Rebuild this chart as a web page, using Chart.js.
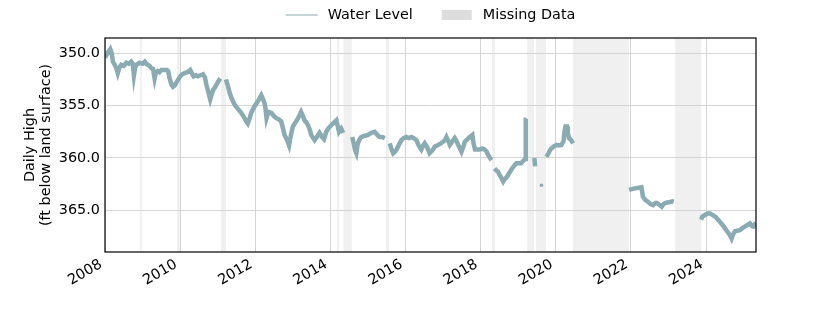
<!DOCTYPE html>
<html>
<head>
<meta charset="utf-8">
<script src="https://cdn.jsdelivr.net/npm/chart.js@4.4.1/dist/chart.umd.min.js"></script>
<style>
  html, body { margin: 0; padding: 0; background: #fff; }
</style>
</head>
<body>
<canvas id="chart" width="840" height="315"></canvas>
<script>
// decimal years and daily-high depth (ft below land surface); null = gap in record
const years = [
  2008.00, 2008.05, 2008.10, 2008.14, 2008.18, 2008.21, 2008.26, 2008.30, 2008.34, 2008.38,
  2008.43, 2008.50, 2008.57, 2008.64, 2008.70, 2008.74, 2008.77, 2008.80, 2008.83, 2008.88, 2008.92,
  2009.00, 2009.06, 2009.10, 2009.14, 2009.19, 2009.23, 2009.28, 2009.32, 2009.35, 2009.40,
  2009.45, 2009.50, 2009.58, 2009.65, 2009.68, 2009.72, 2009.77, 2009.81, 2009.85, 2009.90,
  2010.00, 2010.06, 2010.12, 2010.20, 2010.27, 2010.31, 2010.36, 2010.42, 2010.47, 2010.54,
  2010.61, 2010.66, 2010.70, 2010.75, 2010.80, 2010.84, 2010.88, 2010.92, 2010.97, 2011.01, 2011.07,
  2011.15,
  2011.22, 2011.27, 2011.32, 2011.37, 2011.41, 2011.45, 2011.49, 2011.56, 2011.63, 2011.70,
  2011.76, 2011.80, 2011.85, 2011.89, 2011.96, 2012.03, 2012.10, 2012.16, 2012.20, 2012.25,
  2012.27, 2012.30, 2012.35, 2012.43, 2012.50, 2012.56, 2012.62, 2012.69, 2012.74, 2012.78,
  2012.85, 2012.90, 2012.95, 2013.00, 2013.07, 2013.14, 2013.18, 2013.22, 2013.27, 2013.31,
  2013.36, 2013.40, 2013.45, 2013.49, 2013.54, 2013.58, 2013.64, 2013.71, 2013.78, 2013.83,
  2013.89, 2013.96, 2014.03, 2014.10, 2014.16, 2014.23, 2014.29, 2014.34,
  2014.45,
  2014.58, 2014.62, 2014.66, 2014.69, 2014.73, 2014.78, 2014.82, 2014.90, 2015.00, 2015.09,
  2015.18, 2015.25, 2015.31, 2015.38, 2015.45,
  2015.52,
  2015.58, 2015.63, 2015.67, 2015.72, 2015.76, 2015.83, 2015.89, 2015.95, 2016.02, 2016.09,
  2016.16, 2016.22, 2016.29, 2016.35, 2016.42, 2016.47, 2016.51, 2016.58, 2016.64, 2016.71,
  2016.78, 2016.84, 2016.90, 2017.00, 2017.05, 2017.09, 2017.14, 2017.18, 2017.25, 2017.31,
  2017.36, 2017.40, 2017.45, 2017.49, 2017.54, 2017.58, 2017.65, 2017.71, 2017.78, 2017.81,
  2017.85, 2017.92, 2017.98, 2018.05, 2018.11, 2018.16, 2018.20, 2018.25, 2018.29,
  2018.33,
  2018.37, 2018.42, 2018.46, 2018.50, 2018.55, 2018.60, 2018.64, 2018.68, 2018.75, 2018.82,
  2018.88, 2018.95, 2019.02, 2019.08, 2019.15, 2019.19, 2019.20, 2019.22,
  2019.30,
  2019.43, 2019.45,
  2019.55,
  2019.75, 2019.80, 2019.84, 2019.88, 2019.95, 2020.02, 2020.08, 2020.15, 2020.19, 2020.21,
  2020.23, 2020.26, 2020.30, 2020.32, 2020.35, 2020.41, 2020.46,
  2021.00,
  2021.95, 2022.00, 2022.10, 2022.20, 2022.28, 2022.32, 2022.38, 2022.46, 2022.52, 2022.59,
  2022.65, 2022.69, 2022.75, 2022.82, 2022.87, 2022.91, 2022.97, 2023.04, 2023.10, 2023.14,
  2023.50,
  2023.87, 2023.90, 2023.94, 2023.97, 2024.04, 2024.11, 2024.18, 2024.24, 2024.30, 2024.37,
  2024.44, 2024.50, 2024.56, 2024.63, 2024.68, 2024.72, 2024.77, 2024.83, 2024.90, 2024.97,
  2025.03, 2025.10, 2025.17, 2025.22, 2025.26, 2025.30, 2025.33
];
const levels = [
  350.4, 350.1, 349.8, 349.6, 350.0, 350.8, 351.1, 351.4, 351.9, 351.4,
  351.1, 351.2, 350.9, 351.0, 350.8, 351.0, 352.1, 351.4, 351.1, 351.0, 350.9,
  351.0, 350.8, 351.0, 351.1, 351.2, 351.4, 351.5, 352.4, 351.9, 351.7,
  351.8, 351.6, 351.6, 351.6, 351.7, 352.4, 353.0, 353.2, 353.1, 352.8,
  352.2, 352.0, 351.9, 351.8, 351.6, 351.9, 352.2, 352.1, 352.2, 352.1,
  352.0, 352.3, 353.0, 353.7, 354.4, 353.9, 353.5, 353.3, 353.0, 352.7, 352.4,
  null,
  352.5, 353.1, 353.8, 354.3, 354.6, 354.9, 355.1, 355.4, 355.7, 356.1,
  356.5, 356.7, 356.2, 355.7, 355.2, 354.8, 354.4, 354.0, 354.3, 354.8,
  355.2, 356.2, 355.6, 355.7, 356.0, 356.2, 356.3, 356.5, 357.2, 357.8,
  358.3, 358.8, 357.8, 357.0, 356.6, 356.2, 355.9, 355.6, 356.0, 356.4,
  356.6, 356.85, 357.3, 357.8, 358.1, 358.3, 358.0, 357.6, 358.0, 358.2,
  357.5, 357.1, 356.85, 356.6, 356.4, 357.5, 357.2, 357.6,
  null,
  358.0, 358.6, 359.3, 359.55, 358.6, 358.2, 358.0, 357.9, 357.8, 357.6,
  357.5, 357.8, 358.0, 358.0, 358.1,
  null,
  358.6, 359.2, 359.55, 359.4, 359.2, 358.7, 358.3, 358.1, 358.0, 358.1,
  358.0, 358.1, 358.3, 358.8, 359.2, 358.8, 358.6, 359.0, 359.55, 359.3,
  358.9, 358.8, 358.7, 358.45, 358.3, 358.0, 358.4, 358.75, 358.4, 358.1,
  358.4, 358.75, 359.1, 359.4, 358.9, 358.45, 358.2, 358.0, 357.8, 358.6,
  359.2, 359.2, 359.2, 359.1, 359.2, 359.4, 359.7, 360.0, 360.2,
  null,
  361.0, 361.2, 361.3, 361.6, 361.9, 362.25, 362.0, 361.9, 361.5, 361.1,
  360.8, 360.5, 360.5, 360.5, 360.2, 360.1, 356.3, 356.2,
  null,
  360.0, 360.8,
  null,
  359.9, 359.6, 359.3, 359.1, 358.9, 358.75, 358.8, 358.75, 358.5, 358.3,
  357.5, 357.0, 357.0, 357.6, 358.1, 358.3, 358.6,
  null,
  363.05, 363.0, 362.9, 362.85, 362.8, 363.7, 364.0, 364.2, 364.4, 364.5,
  364.3, 364.3, 364.45, 364.65, 364.4, 364.3, 364.25, 364.2, 364.15, 364.2,
  null,
  365.9, 365.6, 365.5, 365.45, 365.3, 365.3, 365.45, 365.6, 365.8, 366.1,
  366.4, 366.7, 367.0, 367.35, 367.7, 367.3, 367.0, 366.95, 366.9, 366.7,
  366.55, 366.4, 366.25, 366.5, 366.55, 366.3, 366.25
];

// lone reading inside a gap
const loneYears = [2019.62];
const loneLevels = [362.6];

// missing-data spans (decimal years)
const missingStart = [2008.93, 2009.92, 2011.09, 2014.18, 2014.35, 2015.48, 2018.30, 2019.24, 2019.47, 2020.46, 2023.18];
const missingEnd   = [2008.98, 2009.99, 2011.22, 2014.23, 2014.57, 2015.56, 2018.38, 2019.42, 2019.74, 2021.95, 2023.87];

const yTicks = [350, 355, 360, 365];

const lineColor = '#8aabb1';
const bandColor = '#f0f0f0';
const font = '"DejaVu Sans", sans-serif';
const fontSize = 14.4;

Chart.defaults.font.family = font;
Chart.defaults.font.size = fontSize;
Chart.defaults.color = '#000';

// shaded gaps behind the grid
const missingBands = {
    id: 'missingBands',
    beforeDraw(chart) {
        const {ctx, chartArea, scales} = chart;
        ctx.save();
        ctx.fillStyle = bandColor;
        missingStart.forEach((s, i) => {
            const x0 = scales.x.getPixelForValue(s);
            const x1 = scales.x.getPixelForValue(missingEnd[i]);
            ctx.fillRect(x0, chartArea.top, Math.max(x1 - x0, 1.5), chartArea.bottom - chartArea.top);
        });
        ctx.restore();
    }
};

// black frame round the plot and the legend on top
const frameAndLegend = {
    id: 'frameAndLegend',
    afterDraw(chart) {
        const {ctx, chartArea} = chart;
        ctx.save();
        ctx.strokeStyle = '#000';
        ctx.lineWidth = 1.2;
        ctx.strokeRect(chartArea.left, chartArea.top, chartArea.right - chartArea.left, chartArea.bottom - chartArea.top);

        ctx.font = fontSize + 'px ' + font;
        ctx.textBaseline = 'middle';
        const w1 = ctx.measureText('Water Level').width;
        const w2 = ctx.measureText('Missing Data').width;
        const total = 32 + 10 + w1 + 29 + 30 + 11 + w2;
        let x = (chartArea.left + chartArea.right) / 2 - total / 2;
        const y = 15;

        ctx.strokeStyle = lineColor;
        ctx.lineWidth = 1.2;
        ctx.beginPath();
        ctx.moveTo(x, y);
        ctx.lineTo(x + 32, y);
        ctx.stroke();
        x += 42;
        ctx.fillStyle = '#000';
        ctx.fillText('Water Level', x, y);
        x += w1 + 29;
        ctx.fillStyle = '#dddddd';
        ctx.fillRect(x, y - 5, 30, 10);
        x += 41;
        ctx.fillStyle = '#000';
        ctx.fillText('Missing Data', x, y);
        ctx.restore();
    }
};

new Chart(document.getElementById('chart'), {
    type: 'line',
    data: {
        datasets: [{
            label: 'Water Level',
            data: years.map((yr, i) => ({x: yr, y: levels[i]})),
            borderColor: lineColor,
            borderWidth: 4.5,
            borderJoinStyle: 'miter',
            pointRadius: 0,
            tension: 0,
            spanGaps: false
        }, {
            label: 'lone',
            data: loneYears.map((yr, i) => ({x: yr, y: loneLevels[i]})),
            showLine: false,
            pointRadius: 1.8,
            pointBackgroundColor: lineColor,
            pointBorderWidth: 0
        }]
    },
    options: {
        responsive: false,
        animation: false,
        layout: { padding: { top: 38, right: 84, left: 0, bottom: 0 } },
        plugins: {
            legend: { display: false },
            tooltip: { enabled: false }
        },
        scales: {
            x: {
                type: 'linear',
                min: 2008,
                max: 2025.33,
                afterFit(scale) { scale.height = 63; },
                grid: { color: '#d4d4d4', lineWidth: 1, drawTicks: false },
                border: { display: false },
                ticks: {
                    stepSize: 2,
                    includeBounds: false,
                    minRotation: 30,
                    maxRotation: 30,
                    padding: 4,
                    labelOffset: -4,
                    callback: v => v.toFixed(0)
                }
            },
            y: {
                type: 'linear',
                reverse: true,
                min: 348.54,
                max: 368.98,
                afterFit(scale) { scale.width = 105; },
                afterBuildTicks(scale) { scale.ticks = yTicks.map(v => ({value: v})); },
                grid: { color: '#d4d4d4', lineWidth: 1, drawTicks: false },
                border: { display: false },
                ticks: {
                    padding: 5,
                    callback: v => v.toFixed(1)
                },
                title: {
                    display: true,
                    text: ['Daily High', '(ft below land surface)'],
                    font: { size: fontSize, lineHeight: 1.12 },
                    padding: { top: 22, bottom: 0 }
                }
            }
        }
    },
    plugins: [missingBands, frameAndLegend]
});
</script>
</body>
</html>
